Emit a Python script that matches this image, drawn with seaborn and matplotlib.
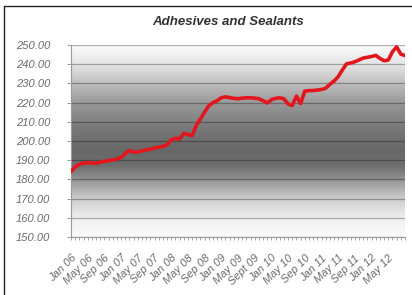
import numpy as np
import pandas as pd
import seaborn as sns
import matplotlib.pyplot as plt
from matplotlib.colors import LinearSegmentedColormap
from matplotlib.lines import Line2D

# monthly index, Jan 06 .. Sep 12
values = [184.0, 186.5, 187.8, 188.5, 188.7, 188.5, 188.4, 189.0, 189.4, 189.8,
          190.1, 190.7, 191.4, 193.5, 195.0, 194.2, 194.3, 194.8, 195.3, 195.8,
          196.3, 196.8, 197.2, 197.9, 200.5, 201.4, 201.0, 204.0, 203.4, 202.8,
          208.0, 211.5, 215.0, 218.3, 220.0, 221.0, 222.5, 223.0, 222.6, 222.2,
          222.0, 222.3, 222.5, 222.5, 222.3, 222.0, 221.0, 219.8, 221.5, 222.2,
          222.5, 222.0, 219.2, 218.5, 223.4, 219.5, 226.0, 226.2, 226.3, 226.5,
          226.8, 227.5, 229.5, 231.2, 233.5, 237.0, 240.2, 240.6, 241.3, 242.2,
          243.2, 243.6, 244.0, 244.6, 243.0, 241.8, 242.2, 246.5, 249.0, 245.2,
          244.5]
tick_labels = ["Jan 06", "May 06", "Sep 06", "Jan 07", "May 07", "Sep 07",
               "Jan 08", "May 08", "Sep 08", "Jan 09", "May 09", "Sept 09",
               "Jan 10", "May 10", "Sep 10", "Jan 11", "May 11", "Sep 11",
               "Jan 12", "May 12"]
y_ticks = [150, 160, 170, 180, 190, 200, 210, 220, 230, 240, 250]

df = pd.DataFrame({"month": range(len(values)), "value": values})

sns.set_theme(style="white")
plt.rcParams['font.family'] = ['Liberation Sans', 'DejaVu Sans']

fig = plt.figure(figsize=(4.12, 2.95), dpi=100)
ax = fig.add_axes([71 / 412, 1 - 237 / 295, 334 / 412, 192 / 295])

# grey band background like the excel chart
cmap = LinearSegmentedColormap.from_list("band", [
    (0.0, "#fbfbfb"), (0.1, "#e4e4e4"), (0.2, "#bebebe"), (0.3, "#999999"),
    (0.45, "#757575"), (0.55, "#686868"), (0.63, "#6e6e6e"), (0.7, "#929292"),
    (0.8, "#cdcdcd"), (0.9, "#eeeeee"), (1.0, "#fafafa")])
grad = np.linspace(0, 1, 256).reshape(-1, 1)
ax.imshow(grad, cmap=cmap, aspect="auto", extent=[0, len(values) - 1, 150, 250],
          zorder=0, interpolation="bilinear")

for y in y_ticks:
    ax.axhline(y, color="black", alpha=0.3, lw=0.9, zorder=1)

sns.lineplot(data=df, x="month", y="value", color="#e3161e", lw=2.6, ax=ax, zorder=3)

ax.set_xlim(0, len(values) - 1)
ax.set_ylim(150, 250)
ax.set_yticks(y_ticks)
ax.set_yticklabels([f"{v:.2f}" for v in y_ticks], fontsize=8, color="#6a6a6a",
                   style="italic")
ax.set_xticks(range(0, 4 * len(tick_labels), 4))
ax.set_xticklabels(tick_labels, rotation=45, ha="right", rotation_mode="anchor",
                   fontsize=8, color="#6a6a6a", style="italic")
ax.set_xticks(range(len(values)), minor=True)
ax.tick_params(axis="y", length=3, width=0.6, color="#888888", pad=12, left=True)
ax.tick_params(axis="x", which="both", length=2.5, width=0.6, color="#999999",
               bottom=True, pad=9)
ax.set_xlabel("")
ax.set_ylabel("")
for side in ["top", "right"]:
    ax.spines[side].set_visible(False)
for side in ["left", "bottom"]:
    ax.spines[side].set_color("#999999")
    ax.spines[side].set_linewidth(0.8)

fig.text(228 / 412, 1 - 22 / 295, "Adhesives and Sealants", ha="center", va="center",
         fontsize=9.5, fontweight="bold", style="italic", color="#333333")

# chart frame edge
fig.add_artist(Line2D([4 / 412, 4 / 412], [0, 1 - 6 / 295], color="#222222", lw=1))
fig.add_artist(Line2D([4 / 412, 1], [1 - 6 / 295, 1 - 6 / 295], color="#222222", lw=1))

fig.savefig("out.png", dpi=100)
